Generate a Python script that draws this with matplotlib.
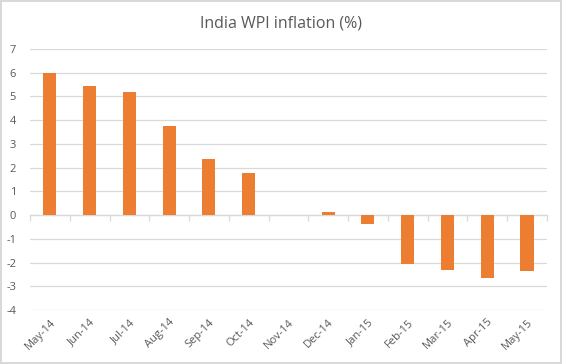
import numpy as np
import matplotlib.pyplot as plt

months = ["May-14", "Jun-14", "Jul-14", "Aug-14", "Sep-14", "Oct-14", "Nov-14",
          "Dec-14", "Jan-15", "Feb-15", "Mar-15", "Apr-15", "May-15"]
wpi = [6.0, 5.43, 5.19, 3.74, 2.38, 1.77, 0.0,
       0.11, -0.39, -2.06, -2.33, -2.65, -2.36]
y_ticks = list(range(-4, 8))

plt.rcParams['font.family'] = ['Open Sans', 'DejaVu Sans']
text_col = '#595959'
grid_col = '#d9d9d9'
bar_col = '#ED7D31'

fig = plt.figure(figsize=(5.62, 3.64), dpi=100)
fig.patch.set_edgecolor(grid_col)
fig.patch.set_linewidth(1.5)
ax = fig.add_axes([0.0534, 0.1484, 0.9196, 0.717])

x = np.arange(len(months))
ax.bar(x, wpi, width=0.33, color=bar_col, zorder=3)

ax.set_xlim(-0.5, len(months) - 0.5)
ax.set_ylim(-4, 7)
ax.set_yticks(y_ticks)
ax.set_yticklabels([str(v) for v in y_ticks])
ax.grid(axis='y', color=grid_col, linewidth=0.9, zorder=0)
for s in ax.spines.values():
    s.set_visible(False)

ax.tick_params(axis='y', length=0, pad=10, labelsize=8, labelcolor=text_col)
ax.set_xticks(x)
ax.set_xticklabels(months, rotation=45, ha='right', rotation_mode='anchor')
ax.tick_params(axis='x', length=0, pad=5, labelsize=8, labelcolor=text_col)

# zero line with category boundary ticks
zero_pos = (0 - (-4)) / 11
sec = ax.secondary_xaxis(zero_pos)
sec.set_xticks(np.arange(-0.5, len(months), 1.0))
sec.set_xticklabels([])
sec.tick_params(length=4, color=grid_col, width=0.9)
sec.spines['bottom'].set_color(grid_col)
sec.spines['bottom'].set_linewidth(0.9)

fig.text(0.5, 0.935, "India WPI inflation (%)", ha='center', va='center',
         fontsize=11.5, color=text_col)

fig.savefig("out.png", dpi=100, edgecolor=fig.get_edgecolor())
